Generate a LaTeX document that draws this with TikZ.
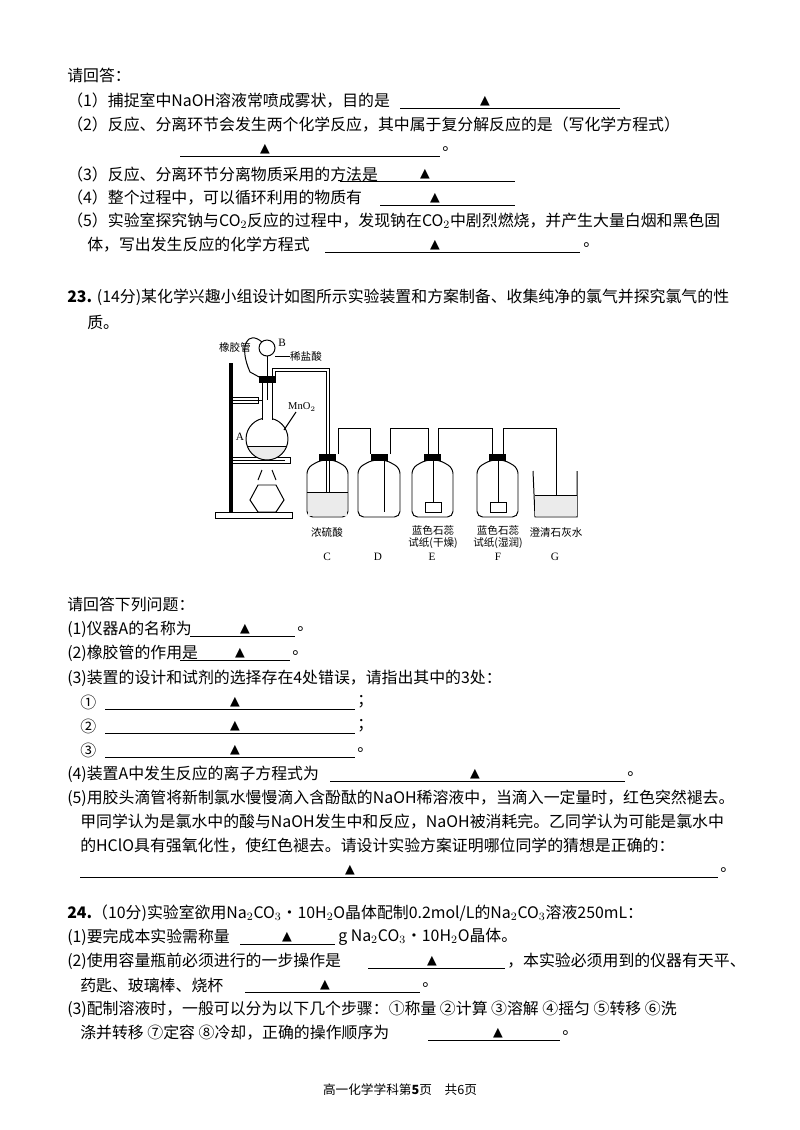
\documentclass[tikz,border=0pt]{standalone}
\usepackage{fontspec}
\setmainfont{Liberation Serif}
\newfontfamily\cjk{Noto Sans CJK SC}
\newfontfamily\sym{DejaVu Sans}
\begin{document}
\begin{tikzpicture}[x=0.025cm,y=-0.025cm,
 txt/.style={anchor=west,inner sep=0pt,font=\fontsize{11.3}{13}\cjk},
 lbl/.style={inner sep=0pt,font=\fontsize{7.5}{9}\cjk},
 blank/.style={line width=0.5pt},
 app/.style={line width=0.7pt},
 liq/.style={fill=black!8}]
\useasboundingbox (0,0) rectangle (800,1130);
\newcommand{\tri}[1]{\node[inner sep=0pt,font=\fontsize{9}{10}\sym] at #1 {▲};}
% ---- part 22 ----
\node[txt] (t1) at (67,75) {请回答：};
\node[txt] (t2) at (67,101) {（1）捕捉室中NaOH溶液常喷成雾状，目的是};
\draw[blank] (400,108) -- (620,108); \tri{(485,101)}
\node[txt] (t3) at (67,125) {（2）反应、分离环节会发生两个化学反应，其中属于复分解反应的是（写化学方程式）};
\draw[blank] (180,156) -- (440,156); \tri{(265,149)} \node[txt] at (442,149) {。};
\node[txt] (t4) at (67,174) {（3）反应、分离环节分离物质采用的方法是};
\draw[blank] (340,181) -- (515,181); \tri{(425,174)}
\node[txt] (t5) at (67,198) {（4）整个过程中，可以循环利用的物质有};
\draw[blank] (380,205) -- (515,205); \tri{(435,198)}
\node[txt] (t6) at (67,221) {（5）实验室探究钠与CO$_2$反应的过程中，发现钠在CO$_2$中剧烈燃烧，并产生大量白烟和黑色固};
\node[txt] (t7) at (87,245) {体，写出发生反应的化学方程式};
\draw[blank] (325,252) -- (580,252); \tri{(435,245)} \node[txt] at (583,245) {。};
% ---- part 23 ----
\node[txt] (t8) at (67,297) {\textbf{23.} (14分)某化学兴趣小组设计如图所示实验装置和方案制备、收集纯净的氯气并探究氯气的性};
\node[txt] (t9) at (87,322) {质。};
% apparatus
\draw[app,fill=black] (229,363) rectangle (232,512);
\draw[app] (215,512) rectangle (292,518);
\draw[app] (232,400) -- (262,400) (232,460) -- (285,460);
\draw[app] (229,397) rectangle (258,403);
\draw[app] (229,457) rectangle (290,463);
% flask A
\begin{scope}
\clip (267,439) circle (21);
\fill[black!8] (240,446) rectangle (295,465);
\draw[app] (240,446) -- (295,446);
\end{scope}
\draw[app] (267,439) circle (21);
\fill[white] (262.4,382) rectangle (271.6,420);
\draw[app] (262,382) -- (262,419.5) (272,382) -- (272,419.5);
\draw[app,fill=black] (259,376) rectangle (275,382);
% funnel B
\draw[app] (267,348) circle (8);
\draw[app] (267,356) -- (267,400);
\draw[app] (262,342) .. controls (248,330) and (238,345) .. (250,372) -- (261,378);
% outlet tube
\draw[app] (272,376) -- (272,368) -- (329,368) -- (329,507);
\draw[app] (275,376) -- (275,371) -- (326,371) -- (326,507);
% burner
\draw[app] (262,470) -- (258,480) (272,470) -- (276,480);
\draw[app] (250,500) -- (258,485) -- (276,485) -- (284,500) -- (276,512) -- (258,512) -- cycle;
% bottles
\foreach \n/\xa/\xb in {C/307/348,D/358/400,E/412/453,F/477/518}{
 \draw[app,rounded corners=4] (\xa,517) -- (\xa,468) -- ({(\xa+\xb)/2-7},460) -- ({(\xa+\xb)/2+7},460) -- (\xb,468) -- (\xb,517) -- cycle;
 \draw[app,fill=black] ({(\xa+\xb)/2-8},454) rectangle ({(\xa+\xb)/2+8},460);
}
\fill[black!8] (308,492) rectangle (347,516); \draw[app] (307,492) -- (348,492);
% connecting tubes
\draw[app] (338,454) -- (338,428) -- (370,428) -- (370,454);
\draw[app] (390,454) -- (390,428) -- (428,428) -- (428,454);
\draw[app] (384,454) -- (384,512);
\draw[app] (438,454) -- (438,428) -- (492,428) -- (492,454);
\draw[app] (433,454) -- (433,503);
\draw[app] (503,454) -- (503,428) -- (556,428) -- (556,505);
\draw[app] (498,454) -- (498,503);
\draw[app] (425,502) rectangle (441,512) (490,502) rectangle (506,512);
% beaker G
\draw[app] (533,471) -- (535,517) -- (577,517) -- (577,471);
\fill[black!8] (535,495) rectangle (577,516); \draw[app] (535,495) -- (577,495);
% labels
\node[lbl] at (235,347) {橡胶管};
\node[lbl,font=\fontsize{8}{9}\selectfont] at (282,343) {B};
\node[lbl] at (306,356) {稀盐酸};
\draw[app] (275,356) -- (290,356);
\node[lbl,font=\fontsize{8}{9}\selectfont] at (240,437) {A};
\node[lbl,font=\fontsize{7.5}{9}\selectfont] at (302,407) {MnO$_2$};
\draw[app] (296,412) -- (284,430);
\node[lbl] at (327,532) {浓硫酸};
\node[lbl,align=center] at (433,537) {蓝色石蕊\\试纸(干燥)};
\node[lbl,align=center] at (498,537) {蓝色石蕊\\试纸(湿润)};
\node[lbl] at (556,532) {澄清石灰水};
\foreach \l/\x in {C/327,D/378,E/432,F/498,G/555}
 \node[lbl,font=\fontsize{8}{9}\selectfont] at (\x,557) {\l};
% questions 23
\node[txt] at (67,604) {请回答下列问题：};
\node[txt] at (67,629) {(1)仪器A的名称为};
\draw[blank] (190,636) -- (295,636); \tri{(245,629)} \node[txt] at (297,629) {。};
\node[txt] at (67,653) {(2)橡胶管的作用是};
\draw[blank] (180,660) -- (290,660); \tri{(240,653)} \node[txt] at (292,653) {。};
\node[txt] at (67,678) {(3)装置的设计和试剂的选择存在4处错误，请指出其中的3处：};
\node[txt] at (80,702) {①}; \draw[blank] (105,709) -- (355,709); \tri{(235,702)} \node[txt] at (357,702) {；};
\node[txt] at (80,726) {②}; \draw[blank] (105,733) -- (355,733); \tri{(235,726)} \node[txt] at (357,726) {；};
\node[txt] at (80,750) {③}; \draw[blank] (105,757) -- (355,757); \tri{(235,750)} \node[txt] at (357,750) {。};
\node[txt] at (67,774) {(4)装置A中发生反应的离子方程式为};
\draw[blank] (330,781) -- (625,781); \tri{(475,774)} \node[txt] at (627,774) {。};
\node[txt] at (67,798) {(5)用胶头滴管将新制氯水慢慢滴入含酚酞的NaOH稀溶液中，当滴入一定量时，红色突然褪去。};
\node[txt] at (80,822) {甲同学认为是氯水中的酸与NaOH发生中和反应，NaOH被消耗完。乙同学认为可能是氯水中};
\node[txt] at (80,846) {的HClO具有强氧化性，使红色褪去。请设计实验方案证明哪位同学的猜想是正确的：};
\draw[blank] (80,877) -- (718,877); \tri{(350,870)} \node[txt] at (720,870) {。};
% part 24
\node[txt] at (67,913) {\textbf{24.}（10分)实验室欲用Na$_2$CO$_3$·10H$_2$O晶体配制0.2mol/L的Na$_2$CO$_3$溶液250mL：};
\node[txt] at (67,937) {(1)要完成本实验需称量};
\draw[blank] (240,944) -- (335,944); \tri{(287,937)} \node[txt] at (338,937) {g Na$_2$CO$_3$·10H$_2$O晶体。};
\node[txt] at (67,961) {(2)使用容量瓶前必须进行的一步操作是};
\draw[blank] (368,968) -- (505,968); \tri{(432,961)} \node[txt] at (507,961) {，本实验必须用到的仪器有天平、};
\node[txt] at (80,985) {药匙、玻璃棒、烧杯};
\draw[blank] (245,992) -- (420,992); \tri{(325,985)} \node[txt] at (422,985) {。};
\node[txt] at (67,1009) {(3)配制溶液时，一般可以分为以下几个步骤：①称量 ②计算 ③溶解 ④摇匀 ⑤转移 ⑥洗};
\node[txt] at (80,1033) {涤并转移 ⑦定容 ⑧冷却，正确的操作顺序为};
\draw[blank] (428,1040) -- (560,1040); \tri{(498,1033)} \node[txt] at (562,1033) {。};
\node[inner sep=0pt,font=\fontsize{9}{10}\cjk] (foot) at (400,1090) {高一化学学科第\textbf{5}页\quad 共6页};
\end{tikzpicture}
\end{document}
